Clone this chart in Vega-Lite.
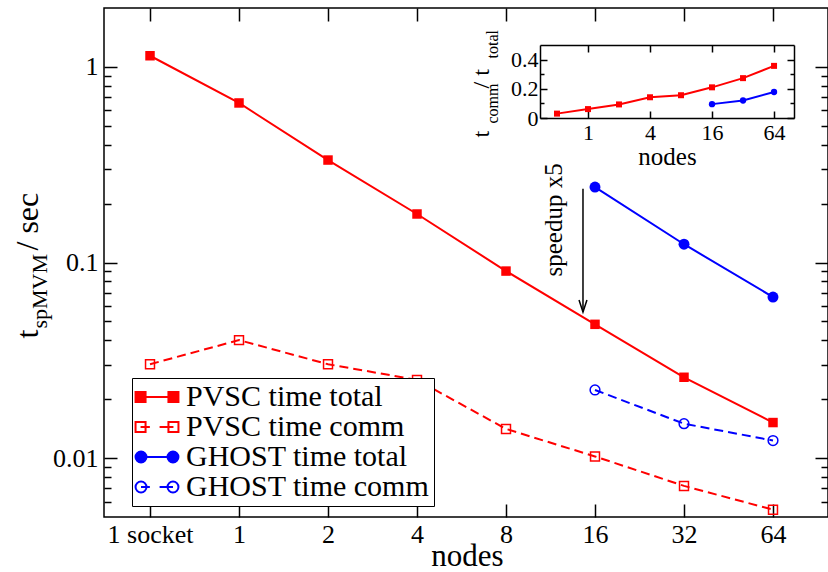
{
  "$schema": "https://vega.github.io/schema/vega-lite/v6.json",
  "autosize": {"type": "none"},
  "width": 724,
  "height": 509,
  "padding": {"left": 104, "top": 8, "right": 0, "bottom": 55},
  "background": "white",
  "config": {
    "view": {"stroke": "black", "strokeWidth": 1.5},
    "font": "Liberation Serif",
    "legend": {"labelFont": "Liberation Serif", "labelFontWeight": "normal"},
    "axis": {"grid": false, "domain": false, "domainColor": "black", "domainWidth": 1.5, "tickColor": "black", "tickWidth": 1.5, "labelColor": "black", "titleColor": "black", "titleFontWeight": "normal", "labelFont": "Liberation Serif", "titleFont": "Liberation Serif", "labelOverlap": false, "labelFlush": false}
  },
  "datasets": {
    "main": [
      {"series": "PVSC time total", "idx": 0, "t": 1.14},
      {"series": "PVSC time total", "idx": 1, "t": 0.654},
      {"series": "PVSC time total", "idx": 2, "t": 0.334},
      {"series": "PVSC time total", "idx": 3, "t": 0.177},
      {"series": "PVSC time total", "idx": 4, "t": 0.0904},
      {"series": "PVSC time total", "idx": 5, "t": 0.0483},
      {"series": "PVSC time total", "idx": 6, "t": 0.0259},
      {"series": "PVSC time total", "idx": 7, "t": 0.0152},
      {"series": "PVSC time comm", "idx": 0, "t": 0.0302},
      {"series": "PVSC time comm", "idx": 1, "t": 0.0401},
      {"series": "PVSC time comm", "idx": 2, "t": 0.0302},
      {"series": "PVSC time comm", "idx": 3, "t": 0.0251},
      {"series": "PVSC time comm", "idx": 4, "t": 0.0141},
      {"series": "PVSC time comm", "idx": 5, "t": 0.0102},
      {"series": "PVSC time comm", "idx": 6, "t": 0.00721},
      {"series": "PVSC time comm", "idx": 7, "t": 0.00545},
      {"series": "GHOST time total", "idx": 5, "t": 0.243},
      {"series": "GHOST time total", "idx": 6, "t": 0.124},
      {"series": "GHOST time total", "idx": 7, "t": 0.0666},
      {"series": "GHOST time comm", "idx": 5, "t": 0.0223},
      {"series": "GHOST time comm", "idx": 6, "t": 0.015},
      {"series": "GHOST time comm", "idx": 7, "t": 0.0123}
    ],
    "arrow": [{"idx": 4.865, "top": 0.238, "tip": 0.0558}],
    "note": [{"idx": 4.54, "t": 0.165, "label": "speedup x5"}],
    "inset": [
      {"series": "PVSC", "nodes": 0.5, "frac": 0.03},
      {"series": "PVSC", "nodes": 1, "frac": 0.061},
      {"series": "PVSC", "nodes": 2, "frac": 0.093},
      {"series": "PVSC", "nodes": 4, "frac": 0.142},
      {"series": "PVSC", "nodes": 8, "frac": 0.156},
      {"series": "PVSC", "nodes": 16, "frac": 0.21},
      {"series": "PVSC", "nodes": 32, "frac": 0.273},
      {"series": "PVSC", "nodes": 64, "frac": 0.357},
      {"series": "GHOST", "nodes": 16, "frac": 0.095},
      {"series": "GHOST", "nodes": 32, "frac": 0.12},
      {"series": "GHOST", "nodes": 64, "frac": 0.178}
    ]
  },
  "resolve": {"scale": {"x": "independent", "y": "independent"}, "axis": {"x": "independent", "y": "independent"}},
  "layer": [
    {
      "resolve": {"axis": {"x": "independent", "y": "independent"}},
      "encoding": {
        "x": {"type": "quantitative", "scale": {"domain": [-0.517, 7.618], "nice": false, "zero": false}},
        "y": {"type": "quantitative", "scale": {"type": "log", "domain": [0.005, 2], "nice": false}}
      },
      "layer": [
        {
          "data": {"name": "main"},
          "transform": [{"filter": "indexof(datum.series, 'total') >= 0"}],
          "mark": {"type": "line", "strokeWidth": 2},
          "encoding": {
            "x": {"field": "idx", "type": "quantitative",
              "axis": {"orient": "bottom", "values": [0, 1, 2, 3, 4, 5, 6, 7], "labelExpr": "['1 socket','1','2','4','8','16','32','64'][datum.value]", "tickSize": -13, "labelFontSize": 26, "labelPadding": 17, "title": "nodes", "titleFontSize": 31, "titleX": 363, "titleY": 48, "titleAlign": "center", "titleBaseline": "alphabetic"}},
            "y": {"field": "t", "type": "quantitative",
              "axis": {"orient": "left", "values": [0.01, 0.1, 1], "labelExpr": "datum.value >= 0.5 ? '1' : datum.value >= 0.05 ? '0.1' : '0.01'", "tickSize": -13, "labelFontSize": 26, "labelPadding": 19, "title": "t", "titleFontSize": 32, "titleAngle": 270, "titleAlign": "left", "titleBaseline": "alphabetic", "titleX": -67, "titleY": 330}},
            "color": {"field": "series", "type": "nominal",
              "scale": {"domain": ["PVSC time total", "PVSC time comm", "GHOST time total", "GHOST time comm"], "range": ["#ff0000", "#ff0000", "#0000ff", "#0000ff"]},
              "legend": {
                "orient": "none", "legendX": 28, "legendY": 370, "title": null, "direction": "vertical",
                "labelFont": "Liberation Serif", "labelFontSize": 30, "labelColor": "black", "labelLimit": 400,
                "symbolSize": 676, "symbolStrokeWidth": 2, "symbolOffset": 6, "labelOffset": 14,
                "padding": 4, "rowPadding": 0, "strokeColor": "black", "fillColor": "white",
                "encode": {
                  "labels": {"update": {"font": {"value": "Liberation Serif"}}},
                  "symbols": {"update": {
                  "shape": {"signal": "datum.value == 'PVSC time total' ? 'M-1.3,0H1.3M-1.65,-0.385H-0.88V0.385H-1.65ZM0.88,-0.385H1.65V0.385H0.88Z' : datum.value == 'PVSC time comm' ? 'M-1.265,0H-0.55M0.2,0H1.265M-1.65,-0.385H-0.88V0.385H-1.65ZM0.88,-0.385H1.65V0.385H0.88Z' : datum.value == 'GHOST time total' ? 'M-0.81,0H0.81M-0.81,0A0.42,0.42 0 1,1 -1.65,0A0.42,0.42 0 1,1 -0.81,0ZM1.65,0A0.42,0.42 0 1,1 0.81,0A0.42,0.42 0 1,1 1.65,0Z' : 'M-1.23,0H-0.55M0.2,0H1.23M-0.81,0A0.42,0.42 0 1,1 -1.65,0A0.42,0.42 0 1,1 -0.81,0ZM1.65,0A0.42,0.42 0 1,1 0.81,0A0.42,0.42 0 1,1 1.65,0Z'"},
                  "size": {"value": 676},
                  "fill": {"signal": "datum.value == 'PVSC time total' ? '#ff0000' : datum.value == 'GHOST time total' ? '#0000ff' : 'transparent'"},
                  "stroke": {"signal": "indexof(datum.value, 'PVSC') >= 0 ? '#ff0000' : '#0000ff'"},
                  "strokeWidth": {"value": 2},
                  "strokeDash": {"value": []},
                  "opacity": {"value": 1}
                }}}
              }}
          }
        },
        {
          "data": {"name": "main"},
          "transform": [{"filter": "indexof(datum.series, 'comm') >= 0"}],
          "mark": {"type": "line", "strokeWidth": 2, "strokeDash": [9, 5]},
          "encoding": {
            "x": {"field": "idx", "type": "quantitative",
              "axis": {"orient": "top", "values": [0, 1, 2, 3, 4, 5, 6, 7], "tickSize": -13, "labels": false, "title": null}},
            "y": {"field": "t", "type": "quantitative",
              "axis": {"orient": "left", "values": [0.006, 0.007, 0.008, 0.009, 0.02, 0.03, 0.04, 0.05, 0.06, 0.07, 0.08, 0.09, 0.2, 0.3, 0.4, 0.5, 0.6, 0.7, 0.8, 0.9], "tickSize": -7, "labels": false, "title": "spMVM", "titleFontSize": 22, "titleAngle": 270, "titleAlign": "left", "titleBaseline": "alphabetic", "titleX": -58, "titleY": 320}},
            "color": {"field": "series", "type": "nominal"}
          }
        },
        {
          "data": {"name": "main"},
          "transform": [{"filter": "datum.series == 'PVSC time total'"}],
          "mark": {"type": "point", "shape": "square", "filled": true, "color": "#ff0000", "size": 90, "opacity": 1},
          "encoding": {
            "x": {"field": "idx", "type": "quantitative", "axis": null},
            "y": {"field": "t", "type": "quantitative",
              "axis": {"orient": "right", "values": [0.01, 0.1, 1], "tickSize": -13, "labels": false, "title": null}}
          }
        },
        {
          "data": {"name": "main"},
          "transform": [{"filter": "datum.series == 'PVSC time comm'"}],
          "mark": {"type": "point", "shape": "square", "filled": false, "color": "#ff0000", "strokeWidth": 1.5, "size": 80, "opacity": 1},
          "encoding": {
            "x": {"field": "idx", "type": "quantitative", "axis": null},
            "y": {"field": "t", "type": "quantitative",
              "axis": {"orient": "right", "values": [0.006, 0.007, 0.008, 0.009, 0.02, 0.03, 0.04, 0.05, 0.06, 0.07, 0.08, 0.09, 0.2, 0.3, 0.4, 0.5, 0.6, 0.7, 0.8, 0.9], "tickSize": -7, "labels": false, "title": null}}
          }
        },
        {
          "data": {"name": "main"},
          "transform": [{"filter": "datum.series == 'GHOST time total'"}],
          "mark": {"type": "point", "shape": "circle", "filled": true, "color": "#0000ff", "size": 120, "opacity": 1},
          "encoding": {
            "x": {"field": "idx", "type": "quantitative", "axis": null},
            "y": {"field": "t", "type": "quantitative",
              "axis": {"orient": "left", "ticks": false, "labels": false, "values": [], "title": "/ sec", "titleFontSize": 32, "titleAngle": 270, "titleAlign": "left", "titleBaseline": "alphabetic", "titleX": -67, "titleY": 242}}
          }
        },
        {
          "data": {"name": "main"},
          "transform": [{"filter": "datum.series == 'GHOST time comm'"}],
          "mark": {"type": "point", "shape": "circle", "filled": false, "color": "#0000ff", "strokeWidth": 1.5, "size": 95, "opacity": 1},
          "encoding": {
            "x": {"field": "idx", "type": "quantitative", "axis": null},
            "y": {"field": "t", "type": "quantitative", "axis": null}
          }
        },
        {
          "data": {"name": "arrow"},
          "mark": {"type": "rule", "stroke": "black", "strokeWidth": 1.5},
          "encoding": {
            "x": {"field": "idx", "type": "quantitative", "axis": null},
            "y": {"field": "top", "type": "quantitative", "axis": null},
            "y2": {"field": "tip"}
          }
        },
        {
          "data": {"name": "arrow"},
          "mark": {"type": "point", "shape": "M-0.33,-1L0,0L0.33,-1", "filled": false, "stroke": "black", "strokeWidth": 1.5, "size": 576, "opacity": 1},
          "encoding": {
            "x": {"field": "idx", "type": "quantitative", "axis": null},
            "y": {"field": "tip", "type": "quantitative", "axis": null}
          }
        },
        {
          "data": {"name": "note"},
          "mark": {"type": "text", "angle": 270, "align": "center", "baseline": "middle", "font": "Liberation Serif", "fontSize": 25, "color": "black"},
          "encoding": {
            "x": {"field": "idx", "type": "quantitative", "axis": null},
            "y": {"field": "t", "type": "quantitative", "axis": null},
            "text": {"field": "label"}
          }
        }
      ]
    },
    {
      "data": {"name": "inset"},
      "resolve": {"axis": {"x": "independent", "y": "independent"}},
      "encoding": {
        "x": {"type": "quantitative", "scale": {"type": "log", "base": 2, "domain": [0.342, 100], "nice": false, "range": [436, 690]}},
        "y": {"type": "quantitative", "scale": {"domain": [0, 0.5], "nice": false, "zero": false, "range": [110, 37]}}
      },
      "layer": [
        {
          "transform": [{"filter": "datum.series == 'PVSC'"}],
          "mark": {"type": "line", "color": "#ff0000", "strokeWidth": 2},
          "encoding": {
            "x": {"field": "nodes", "type": "quantitative",
              "axis": {"orient": "bottom", "offset": -399, "domain": true, "values": [1, 4, 16, 64], "tickSize": -7, "labelFontSize": 22, "labelPadding": 11, "title": "nodes", "titleFontSize": 25, "titleX": 563, "titleY": 46, "titleAlign": "center", "titleBaseline": "alphabetic"}},
            "y": {"field": "frac", "type": "quantitative",
              "axis": {"orient": "left", "offset": -436, "domain": true, "values": [0, 0.2, 0.4], "tickSize": -7, "labelFontSize": 22, "labelPadding": 9, "labelExpr": "datum.value == 0 ? '0' : format(datum.value, '.1f')", "title": "t", "titleFontSize": 24, "titleAngle": 270, "titleAlign": "left", "titleBaseline": "alphabetic", "titleX": -52, "titleY": 129}}
          }
        },
        {
          "transform": [{"filter": "datum.series == 'GHOST'"}],
          "mark": {"type": "line", "color": "#0000ff", "strokeWidth": 2},
          "encoding": {
            "x": {"field": "nodes", "type": "quantitative",
              "axis": {"orient": "top", "offset": -37, "domain": true, "values": [1, 4, 16, 64], "tickSize": -7, "labels": false, "title": null}},
            "y": {"field": "frac", "type": "quantitative",
              "axis": {"orient": "left", "offset": -436, "values": [0.1, 0.3], "tickSize": -4, "labels": false, "title": "comm", "titleFontSize": 16, "titleAngle": 270, "titleAlign": "left", "titleBaseline": "alphabetic", "titleX": -43, "titleY": 115}}
          }
        },
        {
          "transform": [{"filter": "datum.series == 'PVSC'"}],
          "mark": {"type": "point", "shape": "square", "filled": true, "color": "#ff0000", "size": 36, "opacity": 1},
          "encoding": {
            "x": {"field": "nodes", "type": "quantitative", "axis": null},
            "y": {"field": "frac", "type": "quantitative",
              "axis": {"orient": "right", "offset": -34, "domain": true, "values": [0, 0.2, 0.4], "tickSize": -7, "labels": false, "title": "/ t", "titleFontSize": 24, "titleAngle": 270, "titleAlign": "left", "titleBaseline": "alphabetic", "titleX": -306, "titleY": 80}}
          }
        },
        {
          "transform": [{"filter": "datum.series == 'GHOST'"}],
          "mark": {"type": "point", "shape": "circle", "filled": true, "color": "#0000ff", "size": 40, "opacity": 1},
          "encoding": {
            "x": {"field": "nodes", "type": "quantitative", "axis": null},
            "y": {"field": "frac", "type": "quantitative",
              "axis": {"orient": "right", "offset": -34, "values": [0.1, 0.3], "tickSize": -4, "labels": false, "title": "total", "titleFontSize": 16, "titleAngle": 270, "titleAlign": "left", "titleBaseline": "alphabetic", "titleX": -297, "titleY": 50}}
          }
        }
      ]
    }
  ]
}
